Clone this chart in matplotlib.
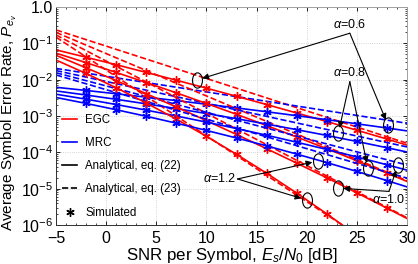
import numpy as np
import matplotlib
matplotlib.use("Agg")
import matplotlib.pyplot as plt
from matplotlib.lines import Line2D
from matplotlib.path import Path
from matplotlib.transforms import Affine2D
from matplotlib.ticker import FixedLocator, MultipleLocator, LogLocator, NullFormatter

plt.rcParams["font.family"] = ["Liberation Sans", "DejaVu Sans"]
plt.rcParams["mathtext.fontset"] = "custom"
plt.rcParams["mathtext.rm"] = "Liberation Sans"
plt.rcParams["mathtext.it"] = "Liberation Sans:italic"

# SNR grid (dB); simulated points sit at -2, 1, ..., 28
snr = [-5, -2, 1, 4, 7, 10, 13, 16, 19, 22, 25, 28, 30]
snr_ends = [-5, 30]

alphas = [0.6, 0.8, 1.0, 1.2]

# EGC, analytical eq. (22)
egc_22 = [
    [6.61e-2, 4.14e-2, 2.58e-2, 1.58e-2, 9.66e-3, 5.83e-3, 3.49e-3, 2.07e-3, 1.21e-3, 7.05e-4, 4.06e-4, 2.32e-4, 1.58e-4],
    [5.37e-2, 2.94e-2, 1.58e-2, 8.34e-3, 4.34e-3, 2.21e-3, 1.11e-3, 5.46e-4, 2.64e-4, 1.26e-4, 5.86e-5, 2.69e-5, 1.58e-5],
    [4.68e-2, 2.12e-2, 9.42e-3, 4.11e-3, 1.77e-3, 7.46e-4, 3.10e-4, 1.26e-4, 5.05e-5, 1.99e-5, 7.67e-6, 2.91e-6, 1.51e-6],
    [3.47e-2, 1.48e-2, 5.97e-3, 2.28e-3, 8.17e-4, 2.76e-4, 8.83e-5, 2.66e-5, 7.57e-6, 2.03e-6, 5.14e-7, 1.23e-7, 4.57e-8],
]
# MRC, analytical eq. (22)
mrc_22 = [
    [6.17e-3, 5.05e-3, 4.09e-3, 3.30e-3, 2.65e-3, 2.11e-3, 1.67e-3, 1.31e-3, 1.02e-3, 7.93e-4, 6.10e-4, 4.68e-4, 3.89e-4],
    [4.90e-3, 3.78e-3, 2.88e-3, 2.16e-3, 1.60e-3, 1.17e-3, 8.43e-4, 6.00e-4, 4.21e-4, 2.92e-4, 1.99e-4, 1.34e-4, 1.02e-4],
    [3.98e-3, 2.90e-3, 2.07e-3, 1.45e-3, 1.00e-3, 6.78e-4, 4.52e-4, 2.96e-4, 1.90e-4, 1.20e-4, 7.46e-5, 4.54e-5, 3.24e-5],
    [3.24e-3, 2.22e-3, 1.49e-3, 9.82e-4, 6.34e-4, 4.01e-4, 2.48e-4, 1.51e-4, 8.95e-5, 5.22e-5, 2.98e-5, 1.67e-5, 1.12e-5],
]
# analytical eq. (23), straight lines between the two ends
egc_23 = [[2.34e-1, 1.78e-4], [2.00e-1, 1.66e-5], [1.70e-1, 1.58e-6], [1.48e-1, 6.80e-8]]
mrc_23 = [[2.04e-2, 6.31e-4], [1.78e-2, 1.41e-4], [1.55e-2, 4.47e-5], [1.35e-2, 1.95e-5]]

# annotations: label position, arrow start, circled points
labels = ["$\\alpha$=0.6", "$\\alpha$=0.8", "$\\alpha$=1.0", "$\\alpha$=1.2"]
label_xy = [(24.3, 0.32), (24.3, 1.56e-2), (28.2, 4.9e-6), (11.3, 1.85e-5)]
arrow_from = [(24.3, 0.19), (24.3, 8.8e-3), (28.2, 8.4e-6), (13.1, 1.85e-5)]
circled = [
    [(9.06, 9.8e-3), (28.1, 5.65e-4)],
    [(23.15, 3.34e-4), (26.1, 3.7e-5)],
    [(23.1, 1.04e-5), (29.1, 4.48e-5)],
    [(21.1, 5.77e-5), (20.0, 4.87e-6)],
]

fig = plt.figure(figsize=(4.18, 2.64), dpi=100)
ax = fig.add_axes([56 / 418, 1 - 225 / 264, 351 / 418, 218 / 264])

star = (6, 2, 0)
for i in range(len(alphas)):
    ax.plot(snr_ends, egc_23[i], color="red", ls="--", lw=1.2)
    ax.plot(snr_ends, mrc_23[i], color="blue", ls="--", lw=1.2)
    ax.plot(snr, egc_22[i], color="red", lw=1.2, marker=star, ms=6, mew=1.0,
            markevery=slice(1, 12))
    ax.plot(snr, mrc_22[i], color="blue", lw=1.2, marker=star, ms=6, mew=1.0,
            markevery=slice(1, 12))

ellipse = Path.unit_circle().transformed(Affine2D().scale(0.65, 1.0))
for i in range(len(alphas)):
    ax.text(label_xy[i][0], label_xy[i][1], labels[i], fontsize=9, ha="center", va="center")
    for (cx, cy) in circled[i]:
        ax.plot([cx], [cy], marker=ellipse, ms=11, mfc="none", mec="k", mew=0.8, ls="none")
        ax.annotate("", xy=(cx, cy), xytext=arrow_from[i],
                    arrowprops=dict(arrowstyle="-|>", color="k", lw=0.8,
                                    mutation_scale=9, shrinkA=0, shrinkB=4))

ax.set_yscale("log")
ax.set_xlim(-5, 30)
ax.set_ylim(1e-6, 1)
ax.set_xticks([-5, 0, 5, 10, 15, 20, 25, 30])
ax.xaxis.set_minor_locator(MultipleLocator(1))
yt = [1e-6, 1e-5, 1e-4, 1e-3, 1e-2, 1e-1, 1]
ax.yaxis.set_major_locator(FixedLocator(yt))
ax.set_yticklabels(["$10^{-6}$", "$10^{-5}$", "$10^{-4}$", "$10^{-3}$", "$10^{-2}$", "$10^{-1}$", "1.0"])
ax.yaxis.set_minor_locator(LogLocator(base=10, subs=np.arange(2, 10)))
ax.yaxis.set_minor_formatter(NullFormatter())
ax.tick_params(which="both", direction="in", top=True, right=True, labelsize=11.5)
ax.tick_params(axis="x", pad=4)
ax.tick_params(axis="y", pad=2)
ax.tick_params(which="major", length=3, width=0.6)
ax.tick_params(which="minor", length=1.5, width=0.5)
ax.grid(True, which="major", ls=":", color="#c8c8c8", lw=0.6)
for s in ["top", "right"]:
    ax.spines[s].set_color("#a0a0a0")
for s in ["left", "bottom"]:
    ax.spines[s].set_color("#303030")
for s in ax.spines.values():
    s.set_linewidth(0.7)

ax.set_xlabel("SNR per Symbol, $E_s/N_0$ [dB]", fontsize=12.2, labelpad=0.5)
ax.set_ylabel("Average Symbol Error Rate, $P_{e_v}$", fontsize=11)
ax.yaxis.set_label_coords(-0.105, 0.47)

handles = [
    Line2D([], [], color="red", lw=1.2),
    Line2D([], [], color="blue", lw=1.2),
    Line2D([], [], color="k", lw=1.2),
    Line2D([], [], color="k", lw=1.2, ls="--"),
    Line2D([], [], color="k", ls="none", marker=star, ms=6, mew=1.0),
]
names = ["EGC", "MRC", "Analytical, eq. (22)", "Analytical, eq. (23)", "Simulated"]
ax.legend(handles, names, loc="lower left", frameon=False, fontsize=8.3,
          handlelength=1.3, handletextpad=0.7, labelspacing=0.97,
          borderaxespad=0.25, borderpad=0.3)

fig.savefig("out.png", dpi=100)
